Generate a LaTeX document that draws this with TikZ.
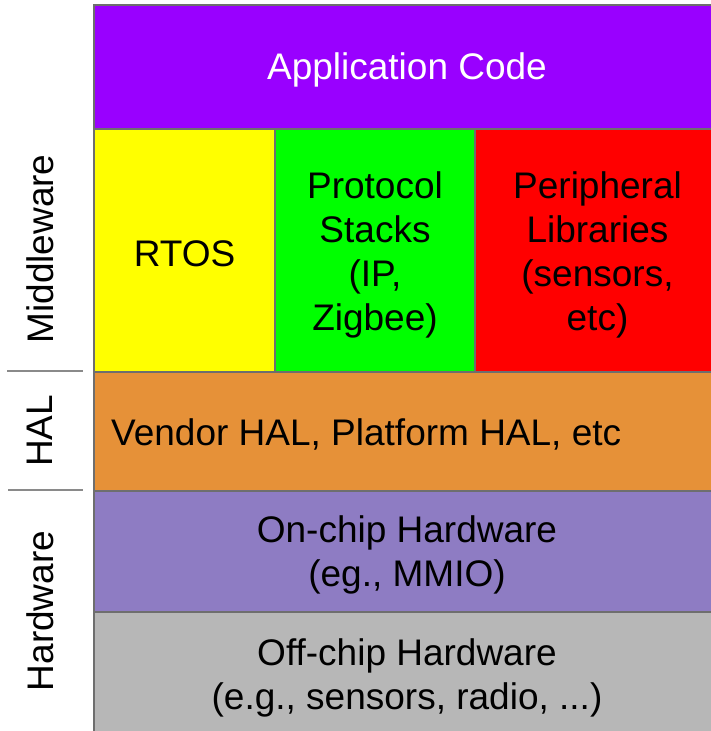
\documentclass[tikz,border=0pt]{standalone}
\usepackage{fontspec}
\setmainfont{Liberation Sans}
\definecolor{appcol}{HTML}{9900FF}
\definecolor{rtoscol}{HTML}{FFFF00}
\definecolor{protocol}{HTML}{00FF00}
\definecolor{periphcol}{HTML}{FF0000}
\definecolor{halcol}{HTML}{E69138}
\definecolor{onchipcol}{HTML}{8E7CC3}
\definecolor{offchipcol}{HTML}{B7B7B7}
\definecolor{edgecol}{HTML}{6E6E6E}
\definecolor{sepcol}{HTML}{8A8A8A}
\tikzset{
  layer/.style={draw=edgecol, line width=2pt, anchor=north west, inner sep=0pt},
  layertext/.style={inner sep=0pt, align=center, yshift=-3pt,
    font=\fontsize{37}{44}\selectfont},
  sidelabel/.style={rotate=90, inner sep=0pt, font=\fontsize{37}{44}\selectfont},
  separator/.style={draw=sepcol, line width=1.5pt}
}
\begin{document}
\begin{tikzpicture}[x=1pt, y=-1pt]
\useasboundingbox (0,0) rectangle (711,731);
\begin{scope}
  \clip (0,0) rectangle (711,731);
  % software / hardware stack
  \node[layer, fill=appcol, minimum width=626pt, minimum height=124pt] (app) at (93,4) {};
  \node[layer, fill=rtoscol, minimum width=181pt, minimum height=243pt] (rtos) at (93,128) {};
  \node[layer, fill=protocol, minimum width=200pt, minimum height=243pt] (proto) at (274,128) {};
  \node[layer, fill=periphcol, minimum width=245pt, minimum height=243pt] (periph) at (474,128) {};
  \node[layer, fill=halcol, minimum width=626pt, minimum height=119pt] (hal) at (93,371) {};
  \node[layer, fill=onchipcol, minimum width=626pt, minimum height=121pt] (onchip) at (93,490) {};
  \node[layer, fill=offchipcol, minimum width=626pt, minimum height=126pt] (offchip) at (93,611) {};
\end{scope}
% layer captions
\node[layertext, text=white] (apptext) at (app.center) {Application Code};
\node[layertext] (rtostext) at (rtos.center) {RTOS};
\node[layertext, yshift=-1.5pt] (prototext) at (proto.center) {Protocol\\Stacks\\(IP,\\Zigbee)};
\node[layertext, yshift=-1.5pt] (periphtext) at (periph.center) {Peripheral\\Libraries\\(sensors,\\etc)};
\node[layertext, anchor=west] (haltext) at ([xshift=18pt]hal.west) {Vendor HAL, Platform HAL, etc};
\node[layertext] (onchiptext) at (onchip.center) {On-chip Hardware\\(eg., MMIO)};
\node[layertext] (offchiptext) at (offchip.center) {Off-chip Hardware\\(e.g., sensors, radio, ...)};
% side labels and separators
\node[sidelabel] (mw) at (40,249) {Middleware};
\node[sidelabel] (hallabel) at (40,431) {HAL};
\node[sidelabel] (hw) at (40,611) {Hardware};
\coordinate (s1a) at (7,371);
\coordinate (s1b) at (83,371);
\coordinate (s2a) at (8,490);
\coordinate (s2b) at (83,490);
\draw[separator] (s1a) -- (s1b);
\draw[separator] (s2a) -- (s2b);
\end{tikzpicture}
\end{document}
